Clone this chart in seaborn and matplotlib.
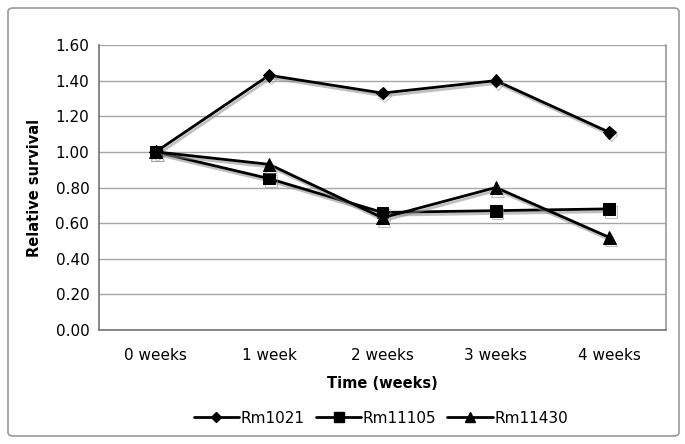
import numpy as np
import pandas as pd
import matplotlib
matplotlib.use("Agg")
import matplotlib.pyplot as plt
import matplotlib.patheffects as pe
from matplotlib.patches import FancyBboxPatch
import seaborn as sns

# ── Data ────────────────────────────────────────────────────────────
weeks   = ["0 weeks", "1 week", "2 weeks", "3 weeks", "4 weeks"]
rm1021  = [1.00, 1.43, 1.33, 1.40, 1.11]
rm11105 = [1.00, 0.85, 0.66, 0.67, 0.68]
rm11430 = [1.00, 0.93, 0.63, 0.80, 0.52]
strains = ["Rm1021", "Rm11105", "Rm11430"]

df = pd.DataFrame({
    "week":     np.tile(np.arange(len(weeks)), len(strains)),
    "survival": rm1021 + rm11105 + rm11430,
    "strain":   np.repeat(strains, len(weeks)),
})

# ── Plot ────────────────────────────────────────────────────────────
sns.set_style("white")
plt.rcParams["font.family"] = ["DejaVu Sans"]
plt.rcParams["text.color"] = "black"
plt.rcParams["axes.labelcolor"] = "black"
plt.rcParams["xtick.color"] = "black"
plt.rcParams["ytick.color"] = "black"

fig = plt.figure(figsize=(6.85, 4.44), dpi=100)
ax = fig.add_axes([99 / 685, 1 - 330 / 444, 567 / 685, 285 / 444])

markers = {"Rm1021": "D", "Rm11105": "s", "Rm11430": "^"}
sizes   = {"Rm1021": 6.5, "Rm11105": 8.5, "Rm11430": 9}

shadow = [pe.SimpleLineShadow(offset=(1.2, -2), shadow_color="0.55", alpha=0.55),
          pe.Normal()]

sns.lineplot(data=df, x="week", y="survival", style="strain",
             markers=markers, dashes=False, color="black",
             linewidth=2, ax=ax, legend=False)
for line, s in zip(ax.get_lines(), strains):
    line.set_markersize(sizes[s])
    line.set_markeredgecolor("black")
    line.set_path_effects(shadow)

# legend handles
leg_sizes = {"Rm1021": 5.5, "Rm11105": 7.5, "Rm11430": 7.5}
handles = [plt.Line2D([], [], color="black", lw=2, marker=markers[s],
                      ms=leg_sizes[s], mec="black") for s in strains]
fig.legend(handles, strains, loc="center", bbox_to_anchor=(381 / 685, 1 - 418 / 444),
           ncol=3, frameon=False, fontsize=11, handlelength=3.0,
           handletextpad=0.1, columnspacing=0.7)

ax.set_xlim(-0.5, 4.5)
ax.set_ylim(0, 1.6)
ax.set_yticks(np.arange(0, 1.61, 0.2))
ax.set_yticklabels([f"{v:.2f}" for v in np.arange(0, 1.61, 0.2)], fontsize=11)
ax.set_xticks(range(len(weeks)))
ax.set_xticklabels(weeks, fontsize=11)
ax.set_xticks(np.arange(-0.5, 4.6, 1), minor=True)
ax.tick_params(axis="x", which="major", length=0, pad=13)
ax.tick_params(axis="x", which="minor", length=5, color="0.5", direction="out")
ax.tick_params(axis="y", length=4, color="0.4", direction="out", pad=3)

ax.grid(axis="y", color="0.65", lw=1)
ax.set_axisbelow(True)
for side in ["left", "bottom"]:
    ax.spines[side].set_color("0.45")
    ax.spines[side].set_linewidth(1.2)
ax.spines["right"].set_color("0.6")
ax.spines["right"].set_linewidth(1.2)
ax.spines["top"].set_visible(False)

ax.set_xlabel("Time (weeks)", fontsize=10.5, fontweight="bold", labelpad=9)
ax.set_ylabel("Relative survival", fontsize=10.5, fontweight="bold", labelpad=10)

# outer chart frame
frame = FancyBboxPatch((8 / 685, 8 / 444), 671 / 685, 428 / 444,
                       boxstyle="round,pad=0,rounding_size=0.008",
                       transform=fig.transFigure, fill=False,
                       edgecolor="0.6", lw=1.2)
fig.patches.append(frame)

fig.savefig("out.png", dpi=100)
